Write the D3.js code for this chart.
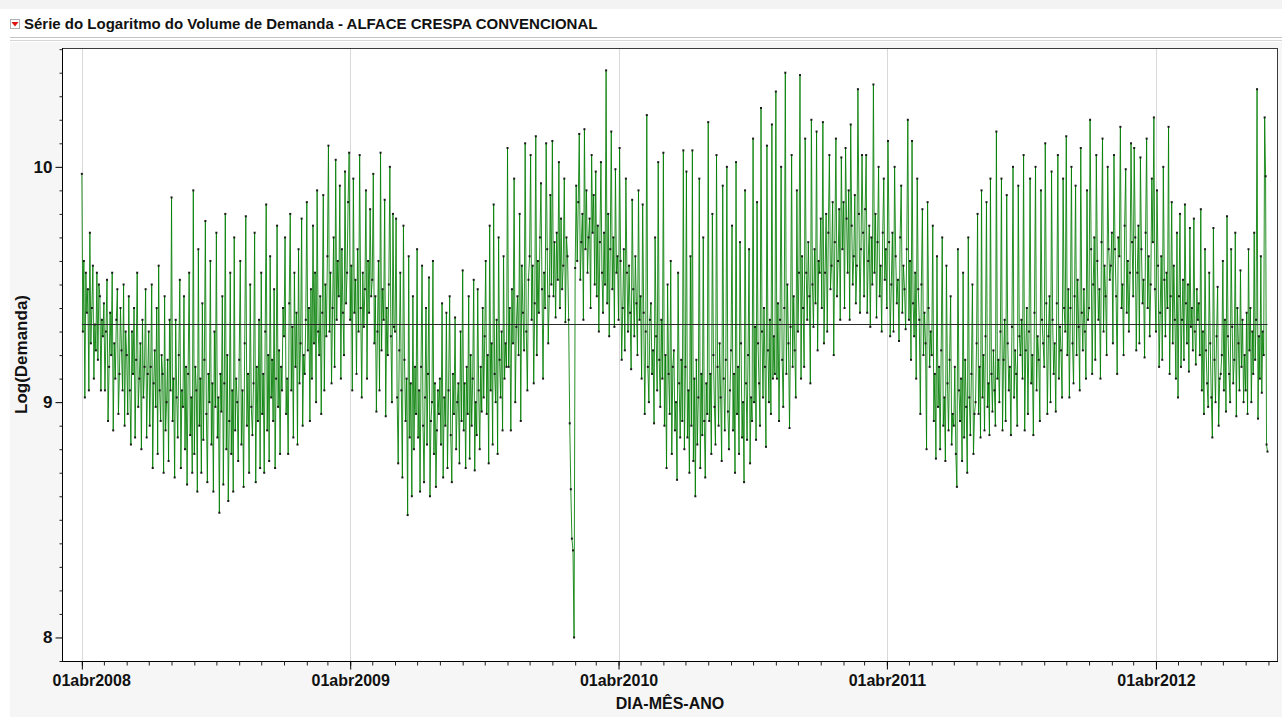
<!DOCTYPE html>
<html lang="pt-BR">
<head>
<meta charset="utf-8">
<title>Série do Logaritmo do Volume de Demanda - ALFACE CRESPA CONVENCIONAL</title>
<script src="https://cdn.jsdelivr.net/npm/d3@7"></script>
<style>
  html, body { margin: 0; padding: 0; background: #ffffff; }
  svg { display: block; font-family: "Liberation Sans", Arial, sans-serif; }
  .tick text { font-weight: bold; }
</style>
</head>
<body>
<svg id="grafico" width="1282" height="717"></svg>
<script>
// Log da demanda diária (dias úteis), agrupado por mês: um sub-array por mês.
const demanda2008 = [ // abr..dez
  [9.97,9.30,9.60,9.02,9.55,9.38,9.48,9.05,9.72,9.25,9.40,9.58,9.10,9.33,9.22,9.55,9.18,9.50,9.45,9.05,9.35,9.28],
  [9.42,9.05,9.30,9.52,8.92,9.15,9.38,9.20,9.55,8.88,9.25,9.10,9.35,9.48,8.95,9.12,9.40,9.22,9.05,9.50,8.90,9.30],
  [9.20,8.95,9.45,9.05,8.82,9.30,9.12,9.40,8.85,9.18,9.55,8.98,9.10,9.25,8.80,9.35,9.02,9.15,9.48,8.85,9.12],
  [9.30,8.90,9.15,9.50,8.72,9.08,9.22,8.98,9.40,8.78,9.58,9.05,8.92,9.20,9.12,8.70,9.45,8.88,9.00,9.18,8.75,9.35,9.05],
  [9.87,8.92,9.10,8.68,9.35,9.02,8.85,9.20,9.52,8.72,9.05,8.98,9.45,8.80,9.15,8.65,9.12,9.55,8.86,9.02,8.70,9.90],
  [8.78,9.15,9.05,8.62,9.65,8.90,9.10,8.70,9.42,8.84,9.18,9.77,8.95,8.66,9.12,9.00,9.60,8.82,9.08,8.62,9.30,8.98],
  [9.72,8.85,9.02,8.53,9.12,8.96,9.45,8.65,9.08,9.80,8.80,9.20,8.58,8.92,9.55,8.78,9.05,8.62,9.70,8.88,9.10,9.00,8.75],
  [9.18,9.60,8.82,9.05,8.64,9.25,9.79,8.90,9.12,8.70,9.50,8.98,8.86,9.08,9.72,8.66,9.15,8.92,9.35,8.72],
  [9.55,8.95,9.12,8.70,9.30,9.84,8.88,9.20,8.75,9.62,9.02,9.18,8.92,9.48,8.72,9.10,9.75,8.98,9.22,8.78,9.15,9.05,9.40]
];
const demanda2009 = [ // jan..dez
  [9.28,9.70,8.95,9.10,8.78,9.42,9.80,9.05,9.32,8.85,9.55,9.15,9.38,8.82,9.65,9.08,9.25,9.78,8.90,9.20,9.12,9.35],
  [9.85,9.22,9.40,8.92,9.48,9.10,9.75,9.25,9.55,9.00,9.90,9.30,9.20,9.45,8.95,9.38,9.88,9.05,9.50,9.28],
  [9.62,10.09,9.30,9.55,9.08,9.40,9.70,9.15,10.03,9.35,9.60,9.45,9.92,9.10,9.65,9.38,9.20,9.98,9.42,9.55,9.85,10.06],
  [9.35,9.58,9.05,9.95,9.38,9.52,9.12,9.65,9.30,10.05,9.40,9.02,9.55,9.32,9.48,9.90,9.10,9.60,9.38,9.82,9.45],
  [9.52,9.97,9.25,9.45,8.96,9.30,9.60,9.05,10.06,9.22,9.48,9.35,9.86,8.94,9.40,9.20,9.50,10.00,9.28,9.00,9.80,9.32],
  [9.30,9.78,9.02,8.74,9.22,9.55,9.05,8.68,9.75,9.18,8.92,9.10,8.52,9.62,8.85,9.08,8.60,9.45,8.80,9.15,8.95],
  [9.65,8.85,9.05,8.62,9.15,9.58,8.90,8.66,9.02,9.40,8.82,9.12,9.53,8.60,8.92,9.00,9.60,8.78,9.08,8.64,8.88,9.05,8.95],
  [9.10,8.82,9.42,8.68,9.02,8.90,9.38,8.72,9.05,9.45,8.86,8.66,9.12,8.95,9.36,8.80,9.00,9.08,8.74,9.30,8.92],
  [9.56,8.88,9.08,8.72,9.15,8.95,9.45,8.76,9.20,8.90,9.10,9.52,8.71,9.00,8.86,9.48,9.05,8.80,9.15,8.96,9.40,9.02],
  [9.28,9.60,8.95,9.20,8.74,9.75,9.05,9.25,8.82,9.84,9.12,9.00,9.35,8.78,9.70,9.18,9.02,9.30,8.88,9.62,9.10,9.25,9.15],
  [10.08,9.15,9.40,8.88,9.48,9.25,9.95,9.00,9.32,9.45,9.20,9.80,8.92,9.58,9.38,9.22,10.10,9.30,9.05,9.52],
  [9.62,10.05,9.35,9.58,9.08,9.42,10.13,9.20,9.60,9.38,9.70,9.93,9.48,9.10,9.55,9.40,10.10,9.65,9.25,9.45,9.88,9.50]
];
const demanda2010 = [ // jan..dez
  [10.11,9.45,9.68,9.36,9.72,9.52,10.02,9.40,9.78,9.48,9.58,9.95,9.34,9.70,9.62,9.35,8.91,8.63,8.42,8.37,8.00],
  [9.57,9.92,9.60,9.85,10.14,9.52,9.68,9.80,9.35,10.16,9.65,9.90,9.55,9.70,9.78,9.40,10.05,9.72,9.88,9.50],
  [9.98,9.45,9.75,9.30,9.68,10.02,9.55,9.38,9.72,9.50,10.41,9.42,9.80,9.28,9.65,10.15,9.48,9.70,9.32,9.99,9.55,9.62],
  [9.35,10.08,9.60,9.18,9.40,9.65,9.22,9.95,9.55,9.30,9.58,9.38,9.14,9.86,9.48,9.28,9.62,9.42,9.20,9.90,9.35],
  [9.45,9.10,9.84,9.38,8.95,9.30,10.22,9.15,9.00,9.35,9.42,9.12,9.22,8.91,9.70,9.28,9.05,10.02,9.18,8.98,9.35,9.10],
  [10.06,8.90,9.20,8.72,9.50,9.12,8.95,9.60,8.78,9.15,9.22,8.88,9.00,8.67,9.55,9.08,8.85,9.18,8.92,10.07,8.80],
  [9.15,9.98,8.85,9.05,8.70,9.62,8.90,10.07,8.75,9.10,8.60,9.18,8.82,9.02,9.95,8.72,9.12,8.86,9.70,8.92,8.68,9.08,8.95],
  [10.19,8.92,9.12,8.78,9.80,9.20,8.98,8.82,10.05,9.15,8.90,9.25,9.02,8.75,9.92,9.10,8.88,9.18,10.00,8.96,8.80,9.05],
  [9.22,9.75,8.88,9.12,8.70,10.02,8.95,9.15,8.78,9.68,9.25,8.85,9.00,8.66,9.90,9.08,8.84,9.20,9.65,8.74,9.02,8.92],
  [10.12,9.00,9.32,8.84,9.85,9.25,9.08,8.90,10.25,9.30,9.02,9.40,9.15,8.81,10.09,9.22,9.00,9.35,8.95,10.18,9.10,9.28,9.12],
  [10.32,9.10,9.42,8.92,9.35,10.00,9.18,8.98,9.40,10.40,9.12,9.50,9.25,8.89,9.32,10.05,9.15,9.45,9.22,9.02,9.90],
  [9.30,9.55,10.39,9.10,9.62,9.40,9.15,10.12,9.55,9.35,9.68,9.45,9.08,10.20,9.50,9.32,9.65,9.42,10.15,9.22,9.60,9.55]
];
const demanda2011 = [ // jan..dez
  [9.78,9.40,10.19,9.25,9.55,9.80,9.30,9.72,10.05,9.48,9.58,9.85,9.20,9.68,10.12,9.45,9.60,9.82,9.35,10.04,9.65],
  [9.85,9.40,10.08,9.78,9.55,9.90,9.35,10.18,9.75,9.50,9.62,9.88,9.42,9.58,10.33,9.80,9.38,9.65,10.05,9.72],
  [9.45,9.82,10.05,9.38,9.60,9.75,9.32,9.70,9.50,10.35,9.55,9.80,9.36,9.68,10.00,9.45,9.58,9.30,9.72,9.95,9.52,9.65],
  [9.40,10.11,9.68,9.28,9.50,9.72,9.30,10.00,9.62,9.42,9.52,9.26,9.70,9.92,9.38,9.58,9.48,9.31,9.65,10.20],
  [9.35,9.60,9.18,10.11,9.42,9.28,9.55,9.10,9.95,9.48,9.35,8.95,9.50,9.82,9.20,9.38,9.25,8.80,9.85,9.40,9.15,9.30],
  [9.20,9.75,8.92,9.12,8.76,9.62,8.98,9.15,8.80,9.22,9.70,8.90,9.02,8.75,9.58,9.08,8.88,9.18,9.45,8.82,8.95],
  [8.90,9.15,8.78,8.64,9.65,9.05,8.92,9.10,8.75,9.55,8.85,9.18,8.98,8.70,9.70,9.02,8.86,9.12,9.50,8.78,8.95,9.00],
  [9.25,9.80,8.95,9.15,8.85,9.90,9.02,9.20,8.88,9.28,9.85,8.98,9.08,8.86,9.95,9.12,8.96,9.22,9.05,8.90,10.15,9.10,9.18],
  [9.00,9.30,9.95,8.88,9.18,9.35,8.92,9.88,9.25,9.05,9.15,8.86,9.32,10.00,9.02,9.22,9.12,8.90,9.92,9.28,9.20],
  [9.35,9.10,10.05,8.88,9.22,9.40,8.95,9.30,9.95,9.08,9.20,8.86,9.38,10.00,9.05,9.28,9.18,8.92,9.90,9.35,9.25],
  [9.15,10.10,9.42,8.95,9.28,9.45,9.00,9.98,9.35,9.12,9.25,8.96,9.42,10.05,9.10,9.32,9.22,9.02,9.95,9.40,9.30],
  [10.13,9.20,9.48,9.02,9.40,10.00,9.25,9.08,9.45,9.92,9.20,9.52,9.32,9.05,10.08,9.38,9.22,9.48,9.30,9.10,9.90,9.35]
];
const demanda2012 = [ // jan..ago
  [9.40,10.20,9.65,9.12,9.50,9.70,9.18,10.05,9.60,9.35,9.48,9.10,9.68,10.12,9.30,9.58,9.45,9.20,10.00,9.65,9.52,9.58],
  [9.72,9.25,10.05,9.65,9.45,9.12,9.70,9.62,10.17,9.40,9.50,9.20,9.75,9.99,9.38,9.60,9.30,9.55,10.10,9.68],
  [9.45,10.08,9.70,9.22,9.55,9.75,9.25,10.04,9.65,9.42,9.52,9.19,9.72,10.12,9.40,9.62,9.28,9.50,9.95,9.68,10.21,9.48],
  [9.30,9.90,9.58,9.15,9.38,9.62,9.18,10.00,9.52,9.28,9.55,9.40,10.17,9.12,9.45,9.85,9.25,9.58,9.35,9.10,9.72],
  [9.02,9.45,9.80,9.15,9.35,9.52,9.18,9.84,9.42,9.25,9.50,9.13,9.74,9.32,9.40,9.22,9.78,9.30,9.16,9.48,9.35,9.42,9.20],
  [9.82,9.05,9.30,8.95,9.65,9.22,9.08,8.98,9.55,9.25,9.02,8.85,9.74,9.18,9.00,9.28,9.49,8.90,9.10,9.12,9.20],
  [9.60,9.05,9.35,8.96,9.79,9.28,9.12,9.00,9.65,9.32,9.08,9.18,9.72,8.94,9.40,9.25,9.05,9.56,9.15,9.35,9.00,9.20],
  [9.05,9.38,8.95,9.65,9.22,9.40,9.00,9.30,9.12,9.72,9.18,9.35,10.33,8.93,9.28,9.10,9.62,9.04,9.30,9.20,10.21,9.96,8.82,8.79]
];

const anos = [
  { ano: 2008, mesInicial: 3, meses: demanda2008 },
  { ano: 2009, mesInicial: 0, meses: demanda2009 },
  { ano: 2010, mesInicial: 0, meses: demanda2010 },
  { ano: 2011, mesInicial: 0, meses: demanda2011 },
  { ano: 2012, mesInicial: 0, meses: demanda2012 }
];

// Média do log da demanda no período (linha de referência)
const mediaLog = 9.33;

const ticksY = [8, 9, 10];
const dominioY = [7.9, 10.505];
const dominioX = [new Date(2008, 2, 5), new Date(2012, 8, 14)];

// Cada mês distribui seus valores ao longo dos dias do mês
const serie = [];
anos.forEach(({ ano, mesInicial, meses }) => {
  meses.forEach((valores, k) => {
    const ini = new Date(ano, mesInicial + k, 1);
    const fim = new Date(ano, mesInicial + k + 1, 1);
    const passo = (fim - ini) / valores.length;
    valores.forEach((v, i) => serie.push({ data: new Date(+ini + i * passo), valor: v }));
  });
});

const svg = d3.select("#grafico");
const W = 1282, H = 717;
const area = { left: 62, right: 1278, top: 48, bottom: 661 };

// Fundo da janela e barra de título
svg.append("rect").attr("x", 0).attr("y", 0).attr("width", W).attr("height", 9).attr("fill", "#f3f3f3");
svg.append("rect").attr("x", 10).attr("y", 42).attr("width", W - 10).attr("height", H - 42).attr("fill", "#f6f6f6");
svg.append("line").attr("x1", 10).attr("x2", W).attr("y1", 37.5).attr("y2", 37.5).attr("stroke", "#c4c4c4");
svg.append("line").attr("x1", 10).attr("x2", W).attr("y1", 40.5).attr("y2", 40.5).attr("stroke", "#d6d6d6");

const icone = svg.append("g").attr("transform", "translate(10,19)");
icone.append("rect").attr("x", 0.5).attr("y", 0.5).attr("width", 9).attr("height", 9)
  .attr("fill", "#ffffff").attr("stroke", "#b0b0b0");
icone.append("path").attr("d", "M1.5,3 L8.5,3 L5,7.5 Z").attr("fill", "#e01010");

svg.append("text").attr("x", 24).attr("y", 29)
  .attr("font-size", 15).attr("font-weight", "bold").attr("fill", "#111")
  .text("Série do Logaritmo do Volume de Demanda - ALFACE CRESPA CONVENCIONAL");

// Escalas
const x = d3.scaleTime().domain(dominioX).range([area.left, area.right]);
const y = d3.scaleLinear().domain(dominioY).range([area.bottom, area.top]);

// Área de plotagem
svg.append("rect").attr("x", area.left).attr("y", area.top)
  .attr("width", area.right - area.left).attr("height", area.bottom - area.top)
  .attr("fill", "#ffffff");

const anosMarco = d3.timeYear.range(new Date(2008, 0, 1), new Date(2013, 0, 1))
  .map(d => new Date(d.getFullYear(), 3, 1))
  .filter(d => d >= dominioX[0] && d <= dominioX[1]);

// Grade vertical nos marcos anuais
svg.append("g").selectAll("line").data(anosMarco).join("line")
  .attr("x1", d => Math.round(x(d)) + 0.5).attr("x2", d => Math.round(x(d)) + 0.5)
  .attr("y1", area.top).attr("y2", area.bottom)
  .attr("stroke", "#d9d9d9").attr("stroke-width", 1);

// Série
const linha = d3.line().x(d => x(d.data)).y(d => y(d.valor));
svg.append("path").datum(serie)
  .attr("d", linha).attr("fill", "none")
  .attr("stroke", "#007d00").attr("stroke-width", 1).attr("stroke-opacity", 0.85)
  .attr("stroke-linejoin", "round");

svg.append("g").selectAll("rect").data(serie).join("rect")
  .attr("x", d => x(d.data) - 1).attr("y", d => y(d.valor) - 1)
  .attr("width", 2).attr("height", 2).attr("fill", "#1a1a1a");

// Linha da média
const extX = d3.extent(serie, d => d.data);
svg.append("line")
  .attr("x1", x(extX[0])).attr("x2", x(extX[1]))
  .attr("y1", Math.round(y(mediaLog)) + 0.5).attr("y2", Math.round(y(mediaLog)) + 0.5)
  .attr("stroke", "#2a2a2a").attr("stroke-width", 1);

// Moldura
svg.append("rect").attr("x", area.left + 0.5).attr("y", area.top + 0.5)
  .attr("width", area.right - area.left - 1).attr("height", area.bottom - area.top)
  .attr("fill", "none").attr("stroke", "#3a3a3a");
svg.append("line").attr("x1", area.left).attr("x2", area.right)
  .attr("y1", area.bottom + 0.5).attr("y2", area.bottom + 0.5).attr("stroke", "#000");
svg.append("line").attr("x1", area.left + 0.5).attr("x2", area.left + 0.5)
  .attr("y1", area.top).attr("y2", area.bottom + 1).attr("stroke", "#000");

// Eixo X: meses (marcas menores) e 1º de abril de cada ano (rotulados)
const locale = d3.timeFormatLocale({
  dateTime: "%d/%m/%Y %H:%M:%S", date: "%d/%m/%Y", time: "%H:%M:%S",
  periods: ["AM", "PM"],
  days: ["domingo","segunda","terça","quarta","quinta","sexta","sábado"],
  shortDays: ["dom","seg","ter","qua","qui","sex","sáb"],
  months: ["janeiro","fevereiro","março","abril","maio","junho","julho","agosto","setembro","outubro","novembro","dezembro"],
  shortMonths: ["jan","fev","mar","abr","mai","jun","jul","ago","set","out","nov","dez"]
});
const fmt = locale.format("%d%b%Y");

const eixoMeses = svg.append("g").attr("transform", `translate(0,${area.bottom + 0.5})`)
  .call(d3.axisBottom(x).ticks(d3.timeMonth.every(1)).tickSize(4).tickFormat(""));
eixoMeses.select(".domain").remove();
eixoMeses.selectAll("line").attr("stroke", "#222");

const eixoAnos = svg.append("g").attr("transform", `translate(0,${area.bottom + 0.5})`)
  .call(d3.axisBottom(x).tickValues(anosMarco).tickSize(8).tickPadding(5).tickFormat(fmt));
eixoAnos.select(".domain").remove();
eixoAnos.selectAll("line").attr("stroke", "#000");
eixoAnos.selectAll("text")
  .attr("font-size", 16).attr("font-family", "'Liberation Sans', Arial, sans-serif")
  .attr("fill", "#111")
  .each(function (d) {
    const w = this.getComputedTextLength();
    const cx = x(d);
    const minCx = 52 + w / 2;
    if (cx < minCx) d3.select(this).attr("x", minCx - cx);
  });

// Eixo Y
const ticksMenores = d3.range(79, 106).map(v => v / 10).filter(v => !ticksY.includes(v));
const eixoYMenor = svg.append("g").attr("transform", `translate(${area.left + 0.5},0)`)
  .call(d3.axisLeft(y).tickValues(ticksMenores).tickSize(3).tickFormat(""));
eixoYMenor.select(".domain").remove();
eixoYMenor.selectAll("line").attr("stroke", "#222");

const eixoY = svg.append("g").attr("transform", `translate(${area.left + 0.5},0)`)
  .call(d3.axisLeft(y).tickValues(ticksY).tickSize(7).tickPadding(3).tickFormat(d3.format("d")));
eixoY.select(".domain").remove();
eixoY.selectAll("line").attr("stroke", "#000");
eixoY.selectAll("text")
  .attr("font-size", 17).attr("font-family", "'Liberation Sans', Arial, sans-serif")
  .attr("fill", "#111");

// Títulos dos eixos
svg.append("text")
  .attr("x", (area.left + area.right) / 2).attr("y", 709)
  .attr("text-anchor", "middle").attr("font-size", 16).attr("font-weight", "bold").attr("fill", "#111")
  .text("DIA-MÊS-ANO");

svg.append("text")
  .attr("transform", `translate(27,${(area.top + area.bottom) / 2}) rotate(-90)`)
  .attr("text-anchor", "middle").attr("font-size", 17).attr("font-weight", "bold").attr("fill", "#111")
  .text("Log(Demanda)");
</script>
</body>
</html>
